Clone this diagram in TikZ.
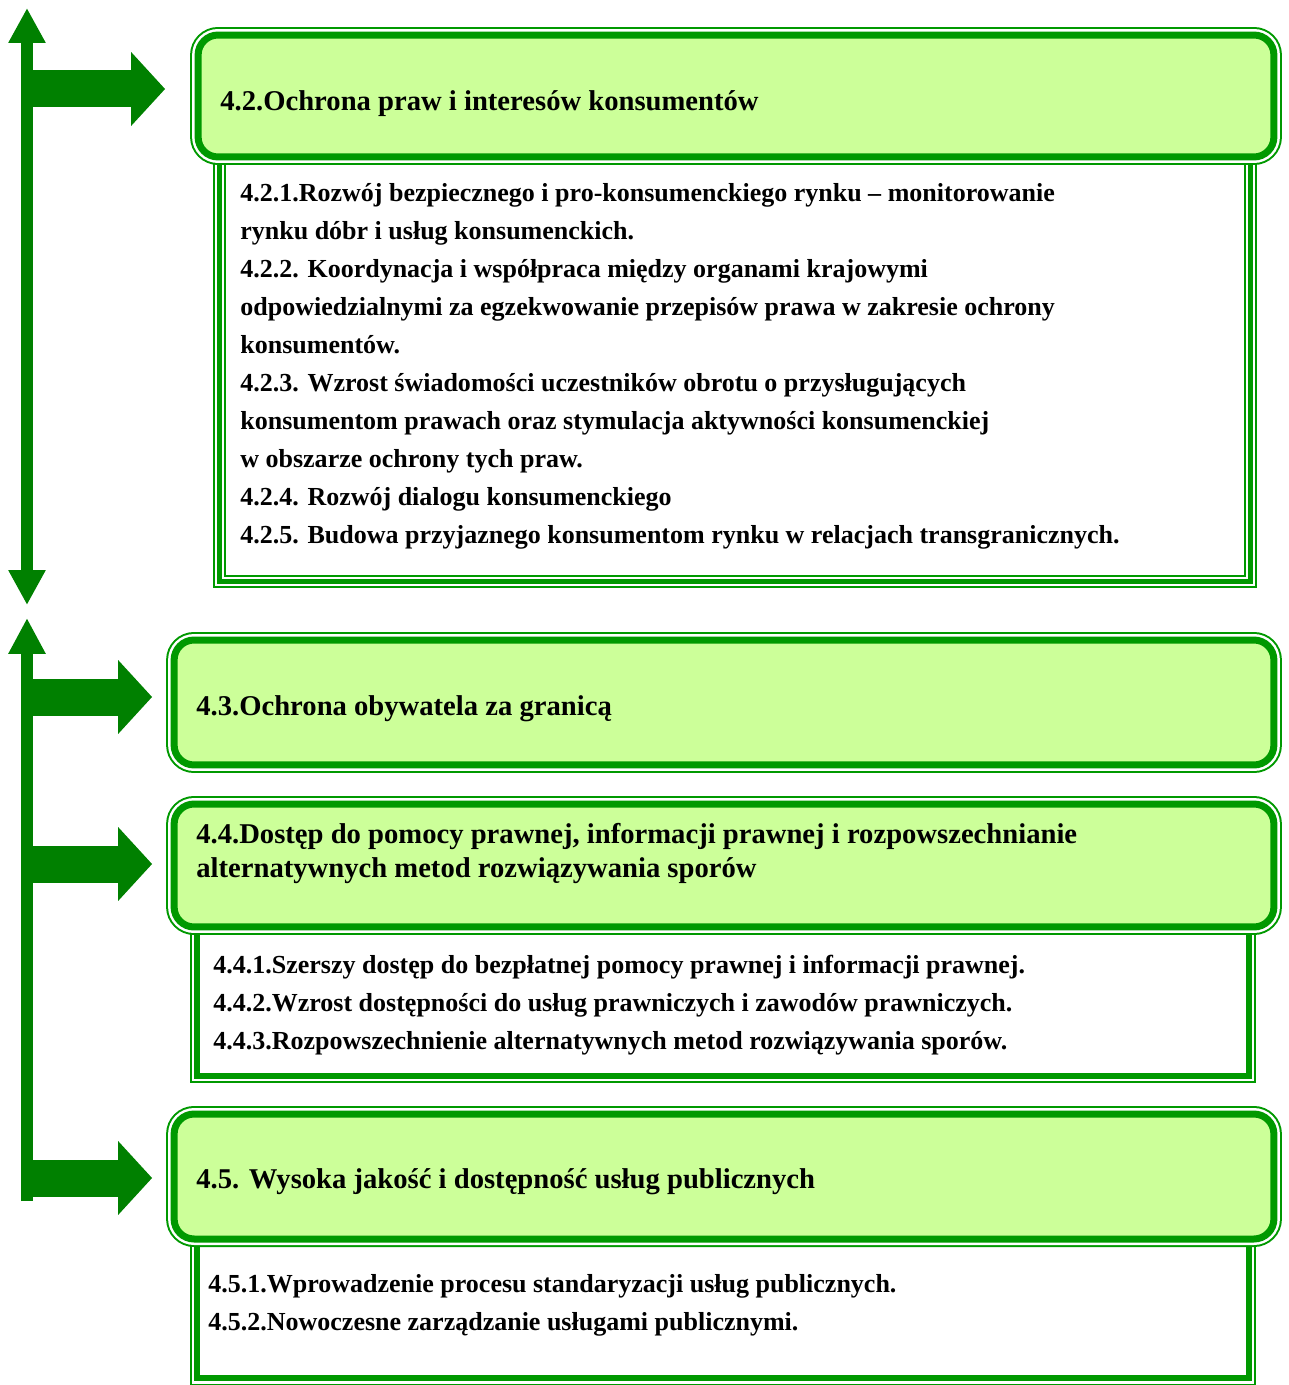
\documentclass[tikz,border=0pt]{standalone}
\usepackage{fontspec}
\setmainfont{Liberation Serif}
\usetikzlibrary{arrows.meta, positioning}
\definecolor{strzalka}{HTML}{008000}
\definecolor{ramka}{HTML}{009900}
\definecolor{tlo}{HTML}{CCFF99}

\begin{document}
\begin{tikzpicture}[x=0.02cm, y=-0.02cm,
  naglowek/.style={rectangle, rounded corners=4mm, outer sep=0pt,
                   fill=tlo, draw=ramka, line width=1.4mm,
                   preaction={draw=ramka, line width=3.2mm},
                   preaction={draw=white, line width=2.4mm}},
  podwojna/.style={rectangle, outer sep=0pt, fill=white, draw=ramka, line width=1.2mm,
                   preaction={draw=ramka, line width=3mm},
                   preaction={draw=white, line width=2.2mm}},
  potrojna/.style={rectangle, outer sep=0pt, draw=ramka, line width=1mm,
                   preaction={fill=white},
                   preaction={draw=ramka, line width=2.6mm},
                   preaction={draw=white, line width=1.8mm}},
  tytul/.style={anchor=base west, align=left, inner sep=0pt,
                font=\fontsize{16.3}{19.3}\selectfont\bfseries},
  tekst/.style={anchor=base west, align=left, inner sep=0pt,
                font=\fontsize{14.8}{21.6}\selectfont\bfseries},
  os/.style={line width=2.4mm, strzalka},
  blok/.style={line width=7.4mm, strzalka, -{Triangle[length=6.8mm, width=14.4mm]}}
]
  \useasboundingbox (0,0) rectangle (1288,1385);

  % ramki z celami szczegolowymi
  \node[potrojna, minimum width=20.64cm, minimum height=8.64cm] (pr42) at (735,366) {};
  \node[podwojna, minimum width=21.04cm, minimum height=3.12cm] (pr44) at (723,998) {};
  \node[podwojna, minimum width=21.04cm, minimum height=2.96cm] (pr45) at (723,1304) {};

  % naglowki
  \node[naglowek, minimum width=21.52cm, minimum height=2.44cm] (hd42) at (736,96) {};
  \node[naglowek, minimum width=22cm, minimum height=2.5cm]    (hd43) at (724,702.5) {};
  \node[naglowek, minimum width=22cm, minimum height=2.46cm]   (hd44) at (724,865.5) {};
  \node[naglowek, minimum width=22cm, minimum height=2.5cm]    (hd45) at (724,1176.5) {};

  % base = linia bazowa ostatniego wiersza
  \node[tytul] (t42) at (220,111) {4.2.Ochrona praw i interesów konsumentów};
  \node[tytul] (t43) at (196,715) {4.3.Ochrona obywatela za granicą};
  \node[tytul] (t44) at (196,877)
    {4.4.Dostęp do pomocy prawnej, informacji prawnej i rozpowszechnianie\\
     alternatywnych metod rozwiązywania sporów};
  \node[tytul] (t45) at (196,1188) {4.5. Wysoka jakość i dostępność usług publicznych};

  \node[tekst] (l42) at (240,543)
    {4.2.1.Rozwój bezpiecznego i pro-konsumenckiego rynku – monitorowanie\\
     rynku dóbr i usług konsumenckich.\\
     4.2.2. Koordynacja i współpraca między organami krajowymi\\
     odpowiedzialnymi za egzekwowanie przepisów prawa w zakresie ochrony\\
     konsumentów.\\
     4.2.3. Wzrost świadomości uczestników obrotu o przysługujących\\
     konsumentom prawach oraz stymulacja aktywności konsumenckiej\\
     w obszarze ochrony tych praw.\\
     4.2.4. Rozwój dialogu konsumenckiego\\
     4.2.5. Budowa przyjaznego konsumentom rynku w relacjach transgranicznych.};
  \node[tekst] (l44) at (213,1049)
    {4.4.1.Szerszy dostęp do bezpłatnej pomocy prawnej i informacji prawnej.\\
     4.4.2.Wzrost dostępności do usług prawniczych i zawodów prawniczych.\\
     4.4.3.Rozpowszechnienie alternatywnych metod rozwiązywania sporów.};
  \node[tekst] (l45) at (208,1330)
    {4.5.1.Wprowadzenie procesu standaryzacji usług publicznych.\\
     4.5.2.Nowoczesne zarządzanie usługami publicznymi.};

  % osie ze strzalkami
  \coordinate (g1) at (27,8);
  \coordinate (d1) at (27,605);
  \coordinate (g2) at (27,618);
  \coordinate (d2) at (27,1201);
  \draw[os, {Triangle[length=7mm, width=7mm]}-{Triangle[length=7mm, width=7mm]}] (g1) -- (d1);
  \draw[os, -{Triangle[length=7.2mm, width=7mm]}] (d2) -- (g2);

  \coordinate (s42) at (27,89);
  \draw[blok, shorten >=6.6mm] (s42) -- (s42 -| hd42.west);
  \foreach \n/\y in {hd43/697, hd44/864, hd45/1178}{
    \coordinate (s\n) at (27,\y);
    \draw[blok, shorten >=4.4mm] (s\n) -- (s\n -| \n.west);
  }

\end{tikzpicture}
\end{document}
